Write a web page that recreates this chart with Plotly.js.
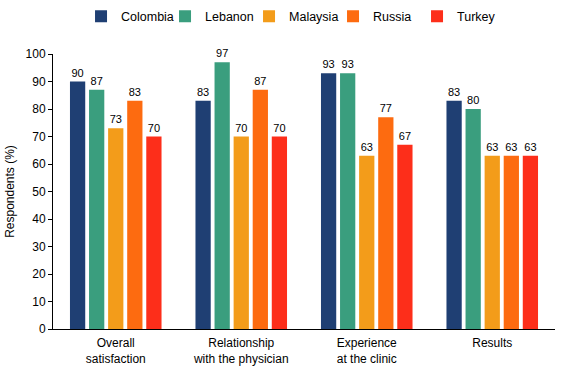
<!DOCTYPE html>
<html><head><meta charset="utf-8">
<script src="https://cdn.plot.ly/plotly-3.0.1.min.js"></script>
<style>html,body{margin:0;padding:0;background:#fff}</style>
</head><body>
<div id="chart" style="width:564px;height:372px"></div>
<script>
const categories = ["Overall<br>satisfaction", "Relationship<br>with the physician", "Experience<br>at the clinic", "Results"];
const countries = ["Colombia", "Lebanon", "Malaysia", "Russia", "Turkey"];
const colombia = [90, 83, 93, 83];
const lebanon = [87, 97, 93, 80];
const malaysia = [73, 70, 63, 63];
const russia = [83, 87, 77, 63];
const turkey = [70, 70, 67, 63];
const colors = ["#1f3f73", "#3a9e7e", "#f39c1a", "#fd6b10", "#fd2e1a"];
const series = [colombia, lebanon, malaysia, russia, turkey];

const data = series.map((vals, i) => ({
  type: "bar",
  name: countries[i],
  x: categories,
  y: vals,
  text: vals.map(String),
  textposition: "outside",
  cliponaxis: false,
  textfont: {family: "Liberation Sans, Arial, sans-serif", size: 11, color: "#000"},
  marker: {color: colors[i]}
}));

const layout = {
  width: 564, height: 372,
  margin: {l: 53, r: 9, t: 54, b: 43},
  barmode: "group",
  bargap: 0.24,
  bargroupgap: 0.2,
  font: {family: "Liberation Sans, Arial, sans-serif", size: 12, color: "#000"},
  showlegend: true,
  legend: {orientation: "h", xref: "container", yref: "container", x: 0.516, xanchor: "center",
    y: 0.955, yanchor: "middle", font: {size: 12.5}, itemwidth: 30, traceorder: "normal",
    entrywidth: 39, entrywidthmode: "pixels"},
  xaxis: {showline: true, linecolor: "#000", linewidth: 1, ticks: "", tickfont: {size: 12},
    ticklabelstandoff: 3},
  yaxis: {range: [0, 100], dtick: 10, showline: true, linecolor: "#000", linewidth: 1,
    ticks: "outside", ticklen: 4, tickcolor: "#000", showgrid: false, zeroline: false,
    tickfont: {size: 12},
    title: {text: "Respondents (%)", font: {size: 12}, standoff: 8}},
  plot_bgcolor: "#fff", paper_bgcolor: "#fff"
};
Plotly.newPlot("chart", data, layout, {displayModeBar: false});
</script>
</body></html>
